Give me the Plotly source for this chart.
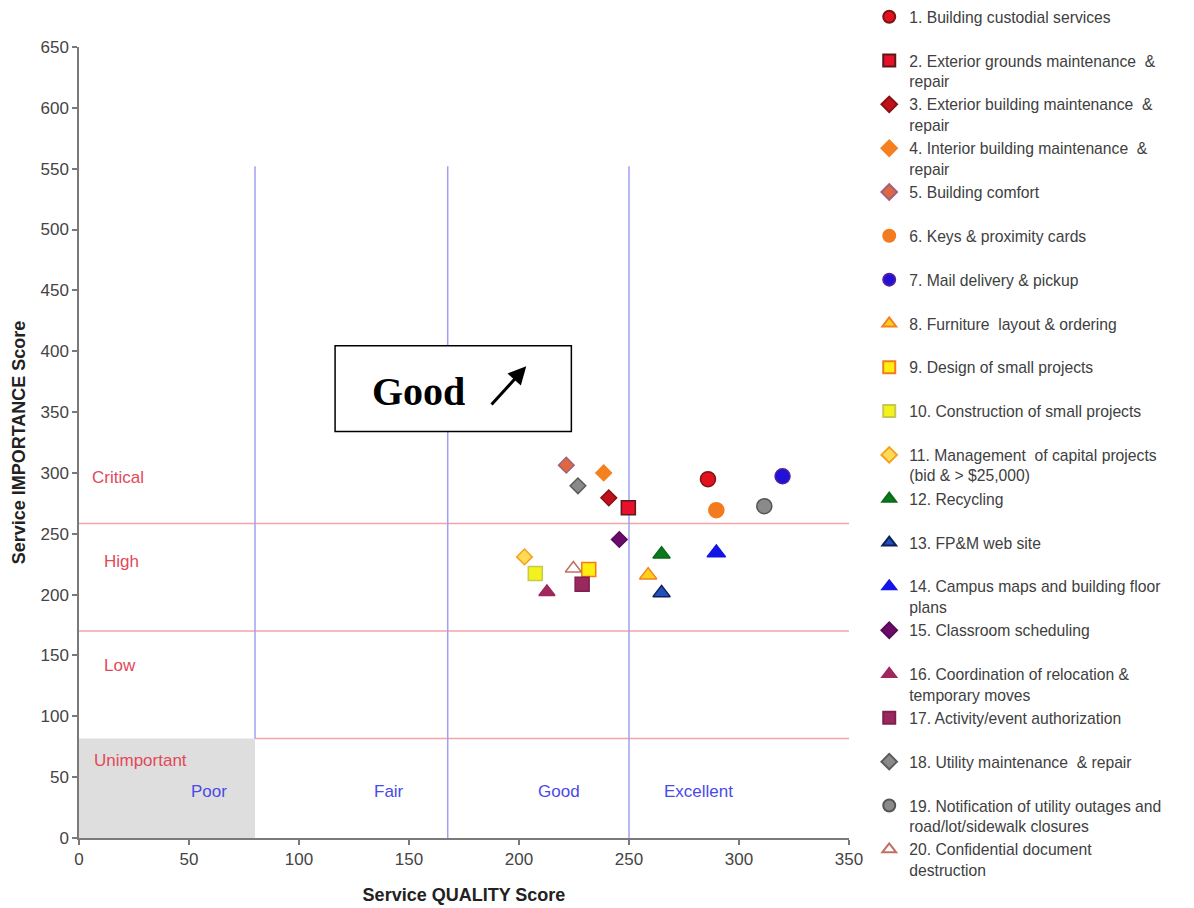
import plotly.graph_objects as go

# Service scores per item
labels = [
    "1. Building custodial services",
    "2. Exterior grounds maintenance  &<br>repair",
    "3. Exterior building maintenance  &<br>repair",
    "4. Interior building maintenance  &<br>repair",
    "5. Building comfort",
    "6. Keys & proximity cards",
    "7. Mail delivery & pickup",
    "8. Furniture  layout & ordering",
    "9. Design of small projects",
    "10. Construction of small projects",
    "11. Management  of capital projects<br>(bid & > $25,000)",
    "12. Recycling",
    "13. FP&M web site",
    "14. Campus maps and building floor<br>plans",
    "15. Classroom scheduling",
    "16. Coordination of relocation &<br>temporary moves",
    "17. Activity/event authorization",
    "18. Utility maintenance  & repair",
    "19. Notification of utility outages and<br>road/lot/sidewalk closures",
    "20. Confidential document<br>destruction",
]
quality_score = [285.9, 249.7, 240.8, 238.5, 221.5, 289.7, 319.8, 258.7, 231.7, 207.4,
                 202.5, 264.8, 264.8, 289.7, 245.6, 212.7, 228.7, 226.8, 311.5, 224.7]
importance_score = [294.9, 271.3, 279.5, 300.0, 306.4, 269.4, 297.3, 216.0, 220.6, 217.3,
                    231.0, 233.2, 201.4, 234.3, 245.3, 202.2, 208.5, 289.4, 272.7, 221.4]

# Band boundaries
quality_bounds = [80, 167.6, 250]          # Poor | Fair | Good | Excellent
importance_bounds = [81.7, 170.2, 258.4]   # Unimportant | Low | High | Critical
quality_line_top = 552

x_ticks = [0, 50, 100, 150, 200, 250, 300, 350]
y_ticks = list(range(0, 651, 50))

# Marker styles: symbol, fill, outline, size
symbols = ["circle", "square", "diamond", "diamond", "diamond", "circle", "circle",
           "triangle-up", "square", "square", "diamond", "triangle-up", "triangle-up",
           "triangle-up", "diamond", "triangle-up", "square", "diamond", "circle", "triangle-up"]
fills = ["#e3101e", "#e8102a", "#c0101e", "#f5801f", "#e0683e", "#f47a20", "#2010d8",
         "#ffd21a", "#ffee10", "#f2f21e", "#ffdb55", "#0b7a1c", "#2050b8", "#1414e6",
         "#6a0b6a", "#a0285e", "#98285e", "#8a8a8a", "#8a8a8a", "#ffffff"]
outlines = ["#7a1515", "#5a1a1a", "#8a1010", "#f5801f", "#a06080", "#f47a20", "#5020a0",
            "#f5801f", "#f57a20", "#c8c850", "#f5a020", "#0b6a18", "#10205a", "#1414e6",
            "#5a0a5a", "#a0285e", "#80204e", "#5a5a5a", "#555555", "#c07060"]
sizes = [15, 14, 12, 12, 12, 15, 15, 15, 14, 14, 12, 15, 15, 16, 12, 14, 14, 12, 15, 14]

FONT = "Arial, 'Liberation Sans', sans-serif"
RED = "#e3485a"
BLUE = "#4a4ae6"

fig = go.Figure()
for i, name in enumerate(labels):
    shown = name if "<br>" in name else name + "<br> "
    fig.add_trace(go.Scatter(
        x=[quality_score[i]], y=[importance_score[i]], mode="markers", name=shown,
        marker=dict(symbol=symbols[i], color=fills[i], size=sizes[i],
                    line=dict(color=outlines[i], width=1.5)),
    ))

shapes = []
# grey "Unimportant / Poor" corner
shapes.append(dict(type="rect", xref="x", yref="y", x0=0, x1=quality_bounds[0],
                   y0=0, y1=importance_bounds[0], fillcolor="#dedede",
                   line=dict(width=0), layer="below"))
# horizontal importance bands
for k, yb in enumerate(importance_bounds):
    shapes.append(dict(type="line", xref="x", yref="y",
                       x0=quality_bounds[0] if k == 0 else 0, x1=350, y0=yb, y1=yb,
                       line=dict(color="#f4a4a8", width=1.5), layer="below"))
# vertical quality bands
for k, xb in enumerate(quality_bounds):
    shapes.append(dict(type="line", xref="x", yref="y", x0=xb, x1=xb,
                       y0=importance_bounds[0] if k == 0 else 0, y1=quality_line_top,
                       line=dict(color="#a0a0f0", width=1.5), layer="below"))
# "Good" callout box
shapes.append(dict(type="rect", xref="x", yref="y", x0=116.4, x1=223.8, y0=334, y1=404.5,
                   fillcolor="white", line=dict(color="black", width=1.5), layer="below"))

annotations = []
for text, x, y in [("Critical", 17.6, 296.5), ("High", 19.4, 227.5),
                   ("Low", 18.5, 142), ("Unimportant", 28, 64)]:
    annotations.append(dict(x=x, y=y, xref="x", yref="y", text=text, showarrow=False,
                            font=dict(family=FONT, size=17, color=RED)))
for text, x in [("Poor", 59), ("Fair", 141), ("Good", 218), ("Excellent", 281.6)]:
    annotations.append(dict(x=x, y=38.4, xref="x", yref="y", text=text, showarrow=False,
                            font=dict(family=FONT, size=17, color=BLUE)))
annotations.append(dict(x=154.2, y=366.6, xref="x", yref="y", text="<b>Good</b>",
                        showarrow=False,
                        font=dict(family="'Times New Roman', 'Liberation Serif', serif",
                                  size=40, color="black")))
annotations.append(dict(x=203.3, y=387.7, xref="x", yref="y", ax=186.9, ay=354.9,
                        axref="x", ayref="y", text="", showarrow=True, arrowhead=2,
                        arrowsize=1.2, arrowwidth=3, arrowcolor="black"))

axis_common = dict(showline=True, linecolor="#7a7a7a", linewidth=1.5, ticks="outside",
                   ticklen=5, tickcolor="#7a7a7a", tickwidth=1.5, showgrid=False,
                   zeroline=False, automargin=False,
                   tickfont=dict(family=FONT, size=17, color="#444444"))

fig.update_layout(
    width=1194, height=908,
    margin=dict(l=79, r=345, t=47, b=70, autoexpand=False),
    paper_bgcolor="white", plot_bgcolor="white",
    font=dict(family=FONT),
    xaxis=dict(range=[0, 350], tickvals=x_ticks,
               title=dict(text="<b>Service QUALITY Score</b>", standoff=20,
                          font=dict(family=FONT, size=18, color="#222222")),
               **axis_common),
    yaxis=dict(range=[0, 650], tickvals=y_ticks,
               title=dict(text="<b>Service IMPORTANCE Score</b>", standoff=10,
                          font=dict(family=FONT, size=18, color="#222222")),
               **axis_common),
    shapes=shapes, annotations=annotations,
    legend=dict(xref="container", yref="container", x=0.728, y=1.0,
                xanchor="left", yanchor="top", valign="top", tracegroupgap=0,
                maxheight=1.0, itemsizing="constant",
                font=dict(family=FONT, size=15.7, color="#404040"),
                bgcolor="rgba(0,0,0,0)"),
    showlegend=True,
)

fig.write_html("out.html")
